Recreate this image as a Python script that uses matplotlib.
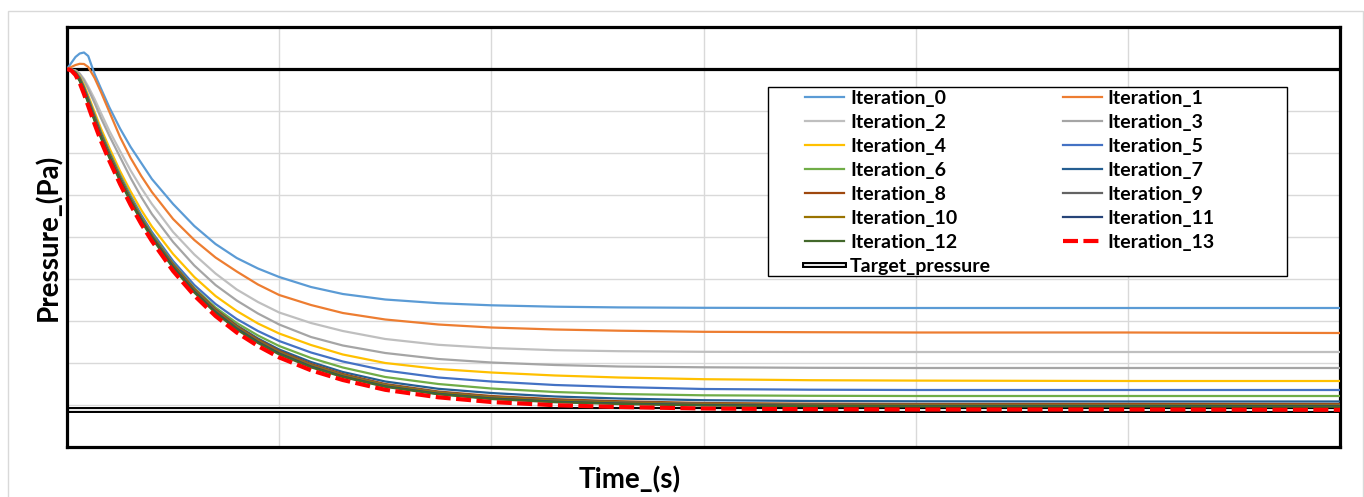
import matplotlib
matplotlib.use("Agg")
import matplotlib.pyplot as plt
import matplotlib.patheffects as pe
from matplotlib.patches import Rectangle

plt.rcParams['font.family'] = ['Lato', 'DejaVu Sans']

# ---- data (time in s, pressure in Pa) ----
time_s = [0, 2, 4, 6, 8, 10, 13, 16, 20, 25, 30, 35, 40, 50, 60, 70, 80,
          90, 100, 115, 130, 150, 175, 200, 230, 260, 300, 350, 400, 500, 600]

iter_0 = [378, 384, 390, 393.5, 394.5, 391, 373, 358.5, 339.5, 318.5, 300, 284, 268, 243, 221, 203,
          189, 178.5, 170, 160, 153, 147.5, 143.8, 141.7, 140.3, 139.6, 139.2, 139, 139, 139, 139]
iter_1 = [378, 380, 382, 383.2, 383, 380, 369, 355, 335, 310, 289, 271, 255, 228, 207, 189.5,
          175.5, 162.5, 152, 142, 134, 127.5, 122.5, 119.5, 117.5, 116.3, 115.2, 114.8, 114.5, 114.5, 114]
iter_2 = [378, 377.5, 376.5, 373.5, 368, 360.5, 348, 334, 316, 296, 276.5, 259, 243, 215, 192.5, 173.5,
          157.5, 145, 134.5, 124, 116, 108, 102.2, 99, 96.8, 95.8, 95.2, 95, 95, 95, 95]
iter_3 = [378, 377.5, 376.5, 373, 366.5, 358, 344, 329, 311, 290, 269, 250, 233, 205, 181.5, 162,
          146.5, 133.5, 122.5, 110, 101.5, 94, 88, 84.5, 82, 80.5, 79.7, 79.2, 79, 79, 79]
iter_4 = [378, 377, 375.5, 370.5, 362, 351.5, 335, 318.5, 299, 276, 255.5, 237, 220.5, 193, 170, 151,
          136, 123.5, 113.5, 102, 92.5, 84, 78, 74.5, 71.5, 69.5, 67.8, 66.8, 66.4, 66, 66]
iter_5 = [378, 377, 375, 369.5, 360, 349, 332, 315, 295, 272, 251, 232, 215, 186, 162, 143,
          128, 116, 106, 94.5, 85.5, 76.5, 69.5, 65.5, 62, 60, 58, 57.3, 57, 57, 57]
iter_6 = [378, 377, 374.5, 369, 359.5, 348, 331, 314, 294.5, 271, 249.5, 230, 213, 183.5, 159, 139.5,
          124, 111.5, 101, 89, 79.5, 70, 63, 58.5, 55, 53, 51.7, 51.2, 51, 51, 51]
iter_7 = [378, 377, 374.5, 368.5, 359, 347.5, 330, 313, 293, 269.5, 248, 228.5, 211.5, 182, 157.5, 137.5,
          121.5, 108.5, 97.5, 85, 75, 65.5, 58.2, 54, 50.5, 48.5, 46.8, 46, 45.7, 45.5, 45.5]
iter_8 = [378, 377, 374, 368, 358, 346.5, 329, 312, 292, 268.5, 247.5, 228, 211, 182.5, 158, 137.5,
          121, 107.5, 96, 83, 73, 63, 55.5, 51, 47.8, 45.8, 44, 43.3, 43, 43, 43]
iter_9 = [378, 377, 374, 367.5, 357.5, 346, 328.5, 311.5, 291.5, 268.5, 247.5, 228.5, 211.5, 181.5, 157, 136.5,
          120, 106.5, 95, 82, 72, 62.2, 54.7, 50, 46.7, 44.8, 43.2, 42.5, 42.2, 42, 42]
iter_10 = [378, 377, 373.5, 367, 357, 345.5, 328, 311, 291, 268, 247, 228, 211, 181, 156.5, 136,
           119.5, 106, 94.5, 81.5, 71.5, 61.7, 54.2, 49.5, 46.2, 44.3, 42.7, 42, 41.7, 41.6, 41.5]
iter_11 = [378, 377, 373.5, 366.5, 356.5, 345, 327, 310, 290, 267, 246, 227, 210, 180, 155.5, 135,
           118.5, 105, 93.5, 80.5, 70.5, 60.7, 53.2, 48.5, 45.3, 43.5, 42, 41.3, 41, 41, 40.8]
iter_12 = [378, 377, 373, 366, 355.5, 344, 326, 309, 289, 266, 245, 226, 209, 179, 154.5, 134,
           117.5, 104, 92.6, 79.7, 70, 60.2, 52.7, 48, 44.8, 43, 41.5, 40.8, 40.5, 40.5, 40.2]
iter_13 = [378, 376.5, 372, 364, 353, 341, 323, 306, 286, 263, 242, 223, 206, 176, 151.5, 131,
           114.5, 101, 89.6, 76.7, 67, 57.2, 49.7, 45, 41.8, 40, 38.5, 37.8, 37.5, 37.5, 37.2]

iterations = [iter_0, iter_1, iter_2, iter_3, iter_4, iter_5, iter_6, iter_7,
              iter_8, iter_9, iter_10, iter_11, iter_12, iter_13]
labels = [f"Iteration_{i}" for i in range(14)]

target_time = [0, 600]
target_pressure = [37.5, 37.5]
initial_pressure = 378          # horizontal axis crosses here

colors = ['#5B9BD5', '#ED7D31', '#BFBFBF', '#A5A5A5', '#FFC000', '#4472C4', '#70AD47',
          '#255E91', '#9E480E', '#636363', '#997300', '#264478', '#43682B', '#FF0000']

W, H = 1364, 497
fig = plt.figure(figsize=(W / 100, H / 100), dpi=100)
ax = fig.add_axes([67 / W, 1 - 447 / H, (1340 - 67) / W, 420 / H])

ax.set_xlim(0, 600)
ax.set_ylim(0, 420)
ax.set_xticks(range(0, 601, 100))
ax.set_yticks(range(0, 421, 42))
ax.tick_params(length=0, labelleft=False, labelbottom=False)
ax.grid(color='#D9D9D9', lw=1.0)
ax.set_axisbelow(True)
for s in ax.spines.values():
    s.set_linewidth(2.3)
    s.set_color('black')

ax.axhline(initial_pressure, color='black', lw=2.3, zorder=1.5)

handles = []
for i, (vals, lab, col) in enumerate(zip(iterations, labels, colors)):
    if i == 13:
        h, = ax.plot(time_s, vals, color=col, lw=3.0, dashes=(3.6, 1.3),
                     label=lab, zorder=4)
    else:
        h, = ax.plot(time_s, vals, color=col, lw=1.6, label=lab, zorder=3)
    handles.append(h)

ht, = ax.plot(target_time, target_pressure, color='white', lw=1.3, zorder=2.5,
              label='Target_pressure',
              path_effects=[pe.Stroke(linewidth=4.3, foreground='black'), pe.Normal()])

# legend box (white, black border) + two-column legend, row-major order
ax.add_patch(Rectangle((768 / W, 1 - 276 / H), (1287 - 768) / W, (276 - 87) / H,
                       transform=fig.transFigure, facecolor='white',
                       edgecolor='black', lw=1.0, zorder=5))
order = [handles[i] for i in range(0, 14, 2)] + [ht] + [handles[i] for i in range(1, 14, 2)]
leg = ax.legend(handles=order, labels=[h.get_label() for h in order], ncol=2,
                loc='upper left', bbox_to_anchor=(805 / W, 1 - 90 / H),
                bbox_transform=fig.transFigure, frameon=False, borderpad=0,
                borderaxespad=0, handlelength=2.0, handletextpad=0.31,
                columnspacing=3.7, labelspacing=0.36,
                prop=dict(weight='bold', size=14))
leg.set_zorder(6)

fig.text(49 / W, 1 - 237 / H, 'Pressure_(Pa)', rotation=90, ha='center', va='center',
         fontsize=20, weight='bold')
fig.text(630 / W, 1 - 480 / H, 'Time_(s)', ha='center', va='center',
         fontsize=20, weight='bold')

fig.add_artist(Rectangle((8 / W, -0.02), (1363 - 8) / W, 1 - 10.7 / H + 0.02,
                         transform=fig.transFigure, fill=False,
                         edgecolor='#D9D9D9', lw=1.0))

fig.savefig('out.png', dpi=100)
